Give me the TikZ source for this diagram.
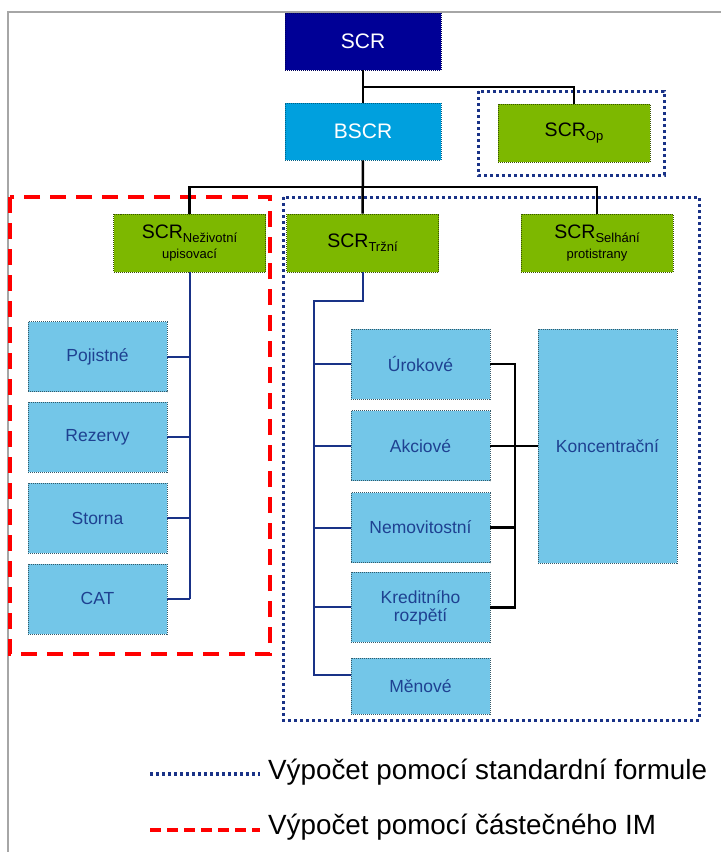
\documentclass[tikz,border=0pt]{standalone}
\usepackage{fontspec}
\setmainfont{Liberation Sans}
\usetikzlibrary{positioning}

\definecolor{scrnavy}{RGB}{0,0,150}
\definecolor{bscrcyan}{RGB}{0,160,222}
\definecolor{modgreen}{RGB}{125,184,0}
\definecolor{modblue}{RGB}{115,198,232}
\definecolor{labelblue}{RGB}{30,65,145}
\definecolor{framenavy}{RGB}{25,50,135}
\definecolor{imred}{RGB}{255,0,0}

\newcommand{\scrsub}[1]{\raisebox{-4pt}{\fontsize{13}{14}\selectfont #1}}
\newcommand{\subline}[1]{{\fontsize{13}{14}\selectfont #1}}

\tikzset{
	topbox/.style={rectangle, minimum width=156pt, minimum height=57pt, fill=#1, draw=#1!60!black, dash pattern=on 1pt off 1pt, line width=0.8pt, text=white, font=\fontsize{21}{24}\selectfont},
	greenbox/.style={rectangle, minimum width=152pt, minimum height=58pt, fill=modgreen, draw=modgreen!45!black, dash pattern=on 1pt off 1pt, line width=0.8pt, align=center, inner sep=2pt, font=\fontsize{19.5}{20}\selectfont},
	riskbox/.style={rectangle, minimum width=139pt, minimum height=70pt, fill=modblue, draw=modblue!45!black, dash pattern=on 1pt off 1pt, line width=0.8pt, text=labelblue, align=center, font=\fontsize{17.5}{18}\selectfont},
	stdframe/.style={draw=framenavy, line width=3pt, dash pattern=on 3pt off 3pt},
	imframe/.style={draw=imred, line width=4pt, dash pattern=on 16pt off 10pt},
	treeline/.style={draw=black, line width=2.5pt},
	bluewire/.style={draw=framenavy, line width=2pt},
	legendtext/.style={anchor=west, inner sep=0pt, font=\fontsize{27.8}{30}\selectfont}
}

\begin{document}
\begin{tikzpicture}[x=1pt, y=-1pt]

	\useasboundingbox (0,0) rectangle (721,852);
	\draw[gray!70, line width=1.5pt] (8,852) -- (8,12) -- (721,12);

	\draw[stdframe] (478,91) rectangle (664,175);
	\draw[imframe] (10,197) rectangle (270,654);
	\draw[stdframe] (283,197) rectangle (699,720);

	\node[topbox=scrnavy] (scr) at (363,41.5) {SCR};
	\node[topbox=bscrcyan] (bscr) at (363,131.5) {BSCR};
	\node[greenbox] (op) at (574,133) {SCR\scrsub{Op}};

	\node[greenbox] (nez) at (189.5,243) {SCR\scrsub{Neživotní}\\\subline{upisovací}};
	\node[greenbox] (trz) at (362.5,243) {SCR\scrsub{Tržní}};
	\node[greenbox] (sel) at (597,243) {SCR\scrsub{Selhání}\\\subline{protistrany}};

	\node[riskbox] (poj) at (97.5,356.5) {Pojistné};
	\node[riskbox, below=10pt of poj] (rez) {Rezervy};
	\node[riskbox, below=10pt of rez] (sto) {Storna};
	\node[riskbox, below=10pt of sto] (cat) {CAT};

	\node[riskbox] (uro) at (420.5,364) {Úrokové};
	\node[riskbox, below=11pt of uro] (akc) {Akciové};
	\node[riskbox, below=11pt of akc] (nem) {Nemovitostní};
	\node[riskbox, below=9pt of nem] (kre) {Kreditního\\rozpětí};
	\node[riskbox, minimum height=56pt, below=15pt of kre] (men) {Měnové};
	\node[riskbox, minimum height=234pt] (kon) at (607.5,446) {Koncentrační};

	\coordinate (fork1) at (363,87);
	\coordinate (fork2) at (363,187);
	\coordinate (rail) at (314,301);
	\coordinate (bus) at (515,364);
	\coordinate (menjoin) at ([yshift=11pt]men.west);

	\draw[treeline] (scr) -- (bscr);
	\draw[treeline] (fork1) -| (op.north);
	\draw[treeline] (bscr) -- (trz);
	\draw[treeline] (nez.north) |- (fork2) -| (sel.north);

	\draw[bluewire] (nez.south) -- (nez.south |- cat.east);
	\foreach \r in {poj,rez,sto,cat}
		\draw[bluewire] (\r.east) -- (\r.east -| nez.south);

	\draw[bluewire] (trz.south) |- (rail) |- (menjoin);
	\foreach \r in {uro,akc,nem,kre}
		\draw[bluewire] (rail |- \r.west) -- (\r.west);

	\draw[treeline] (uro.east) -| (bus |- kre.east) -- (kre.east);
	\draw[treeline] (akc.east) -- (akc.east -| kon.west);
	\draw[treeline] (nem.east) -- (nem.east -| bus);

	\coordinate (std1) at (150,774);
	\coordinate (std2) at (260,774);
	\coordinate (im1) at (150,830);
	\coordinate (im2) at (260,830);
	\draw[stdframe, line width=3.5pt] (std1) -- (std2);
	\draw[imframe, line width=3.5pt, dash pattern=on 11pt off 6pt] (im1) -- (im2);
	\node[legendtext] (stdtext) at (268,772) {Výpočet pomocí standardní formule};
	\node[legendtext] (imtext) at (268,827) {Výpočet pomocí částečného IM};

\end{tikzpicture}
\end{document}
